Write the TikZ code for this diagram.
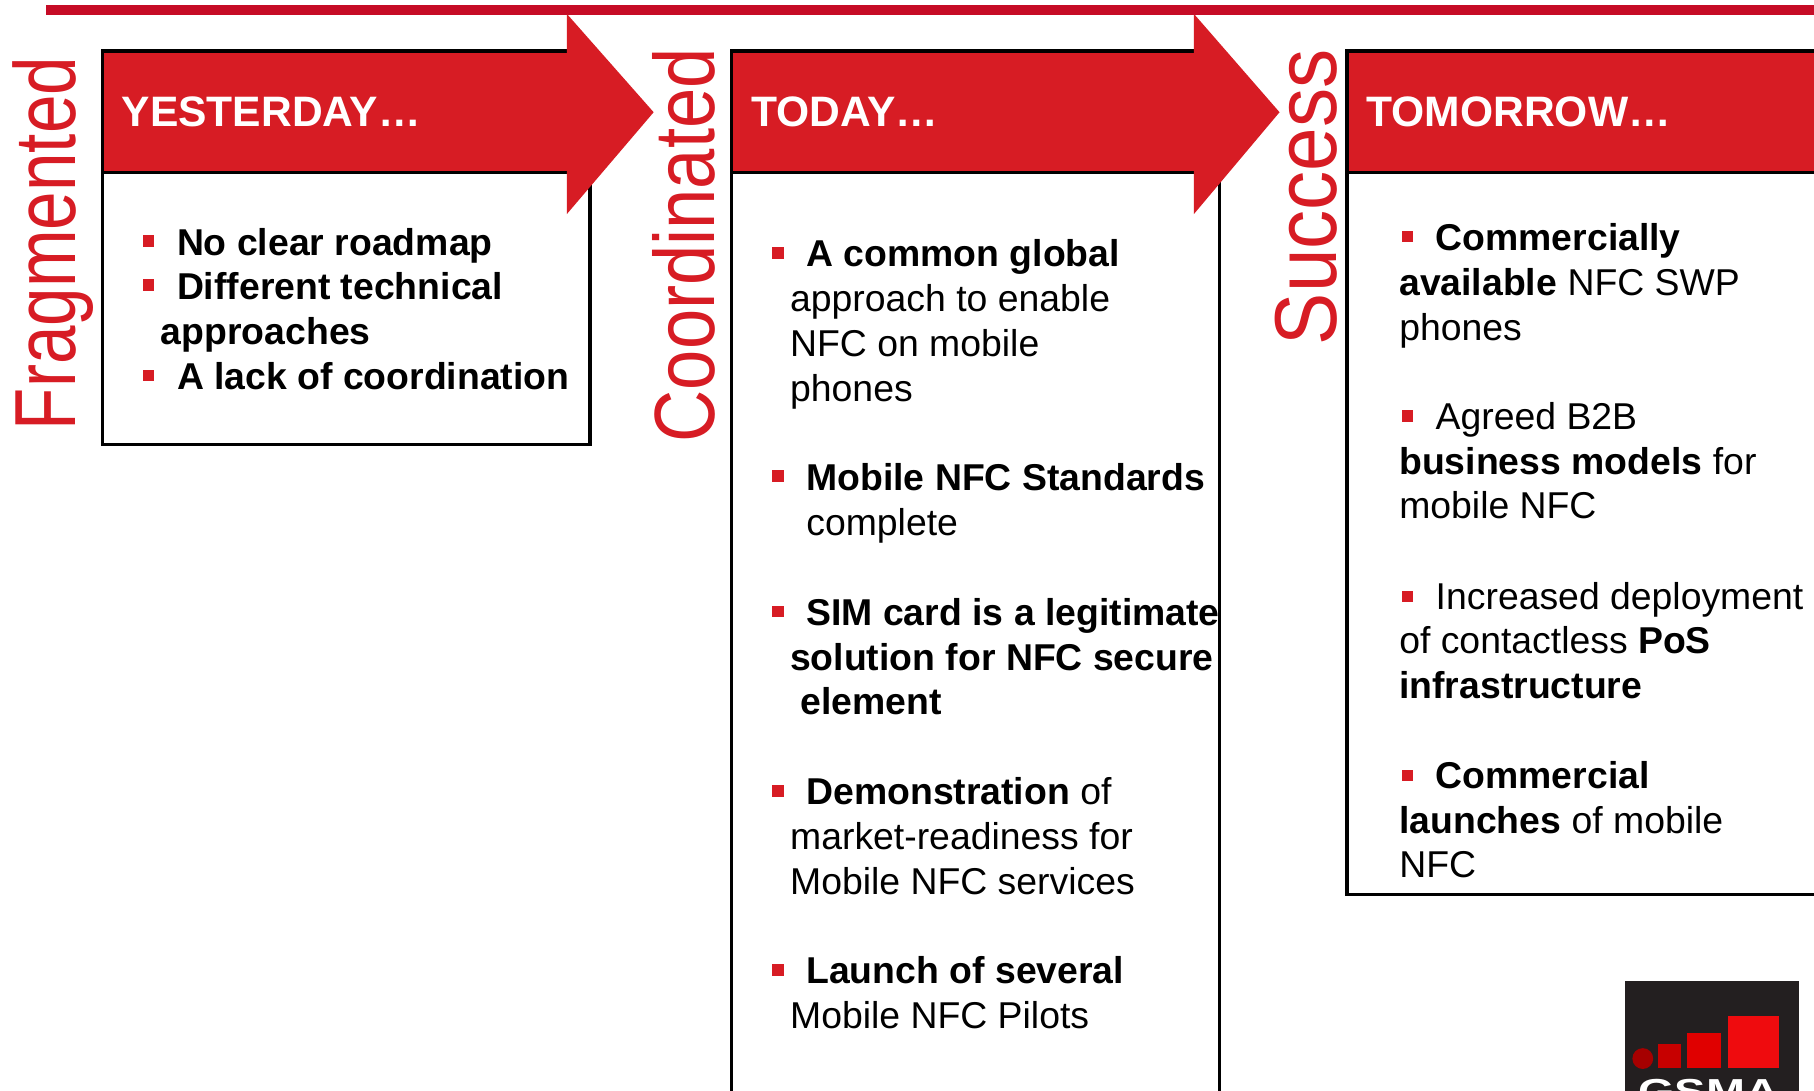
\documentclass[tikz,border=0pt]{standalone}
\usepackage{fontspec}
\setmainfont{Liberation Sans}
\definecolor{bandred}{HTML}{D71C24}
\definecolor{lineRed}{HTML}{C60C26}
\definecolor{logoDark}{HTML}{231F20}
\newcommand{\bodyfont}{\fontsize{32.3}{39}\selectfont}
\newcommand{\headfont}{\fontsize{36.8}{39}\selectfont\bfseries}
\newcommand{\itemline}[4]{\node[txt] (#1) at (#2,#3+0.5) {#4};}
\newcommand{\sq}[3]{\node[bullet] (#1) at (#2+0.5,#3+0.5) {};}
\tikzset{
  x=1pt,y=-1pt,
  txt/.style={anchor=base west,inner sep=0pt,outer sep=0pt,font=\bodyfont,text=black},
  head/.style={anchor=base west,inner sep=0pt,font=\headfont,text=white},
  bullet/.style={fill=bandred,draw=none,minimum size=10pt,inner sep=0pt},
  side/.style={anchor=base west,rotate=90,inner sep=0pt,text=bandred},
  panel/.style={draw=black,line width=3pt,fill=white},
  band/.style={fill=bandred,draw=black,line width=3pt},
  arrowhead/.style={fill=bandred,draw=none}
}
\begin{document}
\begin{tikzpicture}
\useasboundingbox (0,0) rectangle (1568,943);
\clip (0,0) rectangle (1568,943);
\fill[white] (0,0) rectangle (1568,943);
\fill[lineRed] (40,4) rectangle (1568,13);
% panels
\draw[panel] (88.5,44) rectangle (510,384);
\draw[panel] (632.5,44) rectangle (1054,960);
\draw[panel] (1164.5,44) rectangle (1600,773);
% bands and arrows
\draw[band] (88.5,44) rectangle (492,149);
\fill[arrowhead] (490,12) -- (565,97) -- (490,185) -- cycle;
\draw[band] (632.5,44) rectangle (1034,149);
\fill[arrowhead] (1032,12) -- (1106,97) -- (1032,185) -- cycle;
\draw[band] (1164.5,44) rectangle (1600,149);
% side labels
\node[side] (frag) at (65.5,372) {\fontsize{75}{75}\selectfont\scalebox{0.798}[1]{Fragmented}};
\node[side] (coord) at (617.5,382.5) {\fontsize{74}{74}\selectfont\scalebox{0.845}[1]{Coordinated}};
\node[side] (succ) at (1155,298.5) {\fontsize{76}{76}\selectfont\scalebox{0.89}[1]{Success}};
% headers
\node[head] (hy) at (105,109.5) {YESTERDAY…};
\node[head] (ht) at (649,109.5) {TODAY…};
\node[head] (hm) at (1181,109.5) {TOMORROW…};
% yesterday
\sq{by1}{128}{208}\sq{by2}{128}{246}\sq{by3}{128}{324}
\itemline{y1}{153}{220}{\textbf{No clear roadmap}}
\itemline{y2}{153}{258.5}{\textbf{Different technical}}
\itemline{y3}{139}{297.5}{\textbf{approaches}}
\itemline{y4}{153}{336}{\textbf{A lack of coordination}}
% today
\sq{bt1}{672}{218}\sq{bt2}{672}{411}\sq{bt3}{672}{528}\sq{bt4}{672}{683}\sq{bt5}{672}{838}
\itemline{t1}{697}{230}{\textbf{A common global}}
\itemline{t2}{683}{269}{approach to enable}
\itemline{t3}{683}{308}{NFC on mobile}
\itemline{t4}{683}{346.5}{phones}
\itemline{t5}{697}{423.5}{\textbf{Mobile NFC Standards}}
\itemline{t6}{697}{462.5}{complete}
\itemline{t7}{697}{540}{\textbf{SIM card is a legitimate}}
\itemline{t8}{683}{579}{\textbf{solution for NFC secure}}
\itemline{t9}{692}{617.5}{\textbf{element}}
\itemline{t10}{697}{695}{\textbf{Demonstration} of}
\itemline{t11}{683}{734}{market-readiness for}
\itemline{t12}{683}{773}{Mobile NFC services}
\itemline{t13}{697}{850}{\textbf{Launch of several}}
\itemline{t14}{683}{888.5}{Mobile NFC Pilots}
% tomorrow
\sq{bm1}{1216}{204}\sq{bm2}{1216}{359}\sq{bm3}{1216}{515}\sq{bm4}{1216}{670}
\itemline{m1}{1241}{216}{\textbf{Commercially}}
\itemline{m2}{1209.5}{255}{\textbf{available} NFC SWP}
\itemline{m3}{1209.5}{294}{phones}
\itemline{m4}{1241}{371}{Agreed B2B}
\itemline{m5}{1209.5}{410}{\textbf{business models} for}
\itemline{m6}{1209.5}{448}{mobile NFC}
\itemline{m7}{1241}{526.5}{Increased deployment}
\itemline{m8}{1209.5}{564.5}{of contactless \textbf{PoS}}
\itemline{m9}{1209.5}{603.5}{\textbf{infrastructure}}
\itemline{m10}{1241}{681}{\textbf{Commercial}}
\itemline{m11}{1209.5}{720}{\textbf{launches} of mobile}
\itemline{m12}{1209.5}{758}{NFC}
% logo
\fill[logoDark] (1405,848) rectangle (1555,960);
\fill[red!65!black] (1420,915) circle (9);
\fill[red!78!black] (1433,902) rectangle (1453,923);
\fill[red!88!black] (1458,893) rectangle (1488,923);
\fill[bandred!40!red] (1494,878) rectangle (1538,923);
\node[anchor=base west,inner sep=0pt,text=white] (gsma) at (1416,954) {\fontsize{30}{30}\selectfont\bfseries\scalebox{1.35}[1]{GSMA}};
\end{tikzpicture}
\end{document}
